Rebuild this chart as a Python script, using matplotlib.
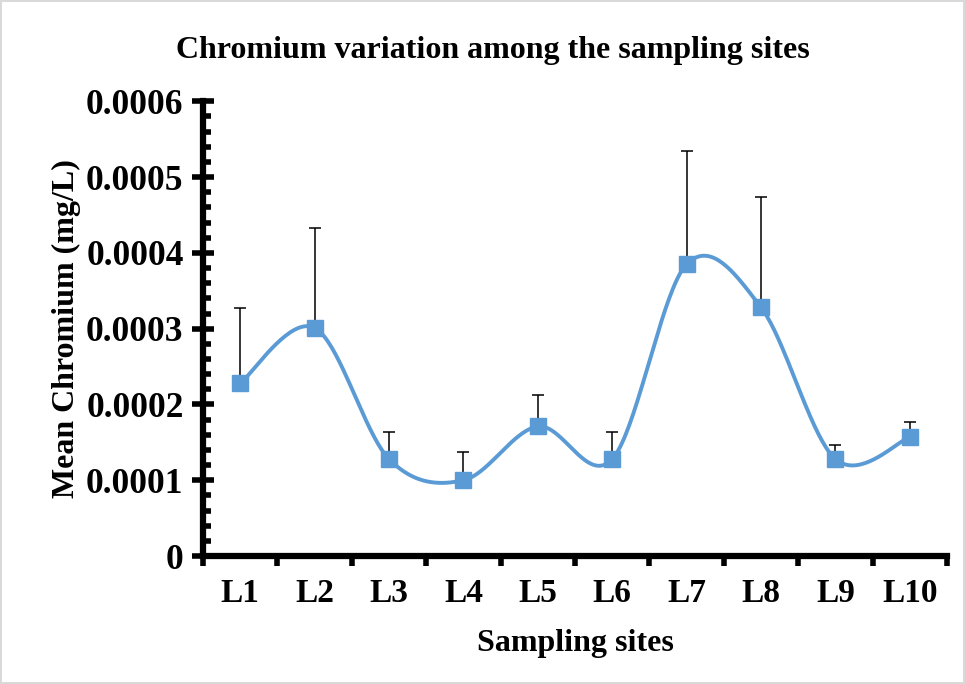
import numpy as np
import matplotlib.pyplot as plt
from matplotlib.ticker import MultipleLocator, FixedLocator, NullFormatter

# =========================
# Data
# =========================

sites = ["L1", "L2", "L3", "L4", "L5", "L6", "L7", "L8", "L9", "L10"]
mean_cr = [0.000228, 0.000301, 0.000128, 0.000100, 0.000171,
           0.000128, 0.000385, 0.000328, 0.000128, 0.000157]
err_cr = [0.000099, 0.000132, 0.000036, 0.000037, 0.000041,
          0.000036, 0.000149, 0.000146, 0.000018, 0.000020]

LINE_COLOR = "#5B9BD5"


def excel_smooth(x, y, n=40):
    # Catmull-Rom style bezier, like Excel's "smoothed line"
    x = np.asarray(x, dtype=float)
    y = np.asarray(y, dtype=float)
    px = np.concatenate([[x[0]], x, [x[-1]]])
    py = np.concatenate([[y[0]], y, [y[-1]]])
    xs, ys = [], []
    t = np.linspace(0, 1, n)
    for i in range(1, len(px) - 2):
        p0 = np.array([px[i], py[i]])
        p3 = np.array([px[i + 1], py[i + 1]])
        c1 = p0 + (np.array([px[i + 1], py[i + 1]]) - np.array([px[i - 1], py[i - 1]])) / 6
        c2 = p3 - (np.array([px[i + 2], py[i + 2]]) - np.array([px[i], py[i]])) / 6
        b = ((1 - t) ** 3)[:, None] * p0 + (3 * (1 - t) ** 2 * t)[:, None] * c1 \
            + (3 * (1 - t) * t ** 2)[:, None] * c2 + (t ** 3)[:, None] * p3
        xs.extend(b[:, 0])
        ys.extend(b[:, 1])
    return np.array(xs), np.array(ys)


plt.rcParams["font.family"] = ["Liberation Serif", "DejaVu Serif"]
plt.rcParams["font.weight"] = "bold"

fig = plt.figure(figsize=(9.65, 6.84), dpi=100)
fig.patch.set_edgecolor("#D9D9D9")
fig.patch.set_linewidth(1.5)

ax = fig.add_axes([0.2104, 0.187, 0.771, 0.665])

x = np.arange(len(sites))
sx, sy = excel_smooth(x, mean_cr)
ax.plot(sx, sy, color=LINE_COLOR, lw=2.8, zorder=2)
ax.errorbar(x, mean_cr, yerr=[np.zeros(len(err_cr)), err_cr], fmt="none",
            ecolor="black", elinewidth=1.1, capsize=4.5, capthick=1.1, zorder=1)
ax.plot(x, mean_cr, ls="none", marker="s", ms=11, color=LINE_COLOR, zorder=3)

ax.set_xlim(-0.5, len(sites) - 0.5)
ax.set_ylim(0, 0.0006)

ax.set_xticks(x)
ax.set_xticklabels(sites, fontsize=24, fontweight="bold")
ax.xaxis.set_minor_locator(FixedLocator(np.arange(-0.5, len(sites), 1.0)))
ax.xaxis.set_minor_formatter(NullFormatter())
ax.tick_params(axis="x", which="major", length=0, pad=16)
ax.tick_params(axis="x", which="minor", direction="out", length=7, width=4)

ax.set_yticks(np.arange(0, 0.00061, 0.0001))
ax.yaxis.set_minor_locator(MultipleLocator(0.00002))
ax.set_yticklabels(["0", "0.0001", "0.0002", "0.0003", "0.0004", "0.0005", "0.0006"],
                   fontsize=25.5, fontweight="bold")
ax.tick_params(axis="y", which="major", direction="inout", length=16, width=4, pad=6)
ax.tick_params(axis="y", which="minor", direction="in", length=6, width=4)

for side in ["top", "right"]:
    ax.spines[side].set_visible(False)
for side in ["left", "bottom"]:
    ax.spines[side].set_linewidth(4.5)

ax.set_xlabel("Sampling sites", fontsize=23, fontweight="bold", labelpad=14)
ax.set_ylabel("Mean Chromium (mg/L)", fontsize=23, fontweight="bold", labelpad=4)
fig.text(0.511, 0.926, "Chromium variation among the sampling sites",
         ha="center", va="center", fontsize=23, fontweight="bold")

fig.savefig("out.png", dpi=100, edgecolor=fig.get_edgecolor())
